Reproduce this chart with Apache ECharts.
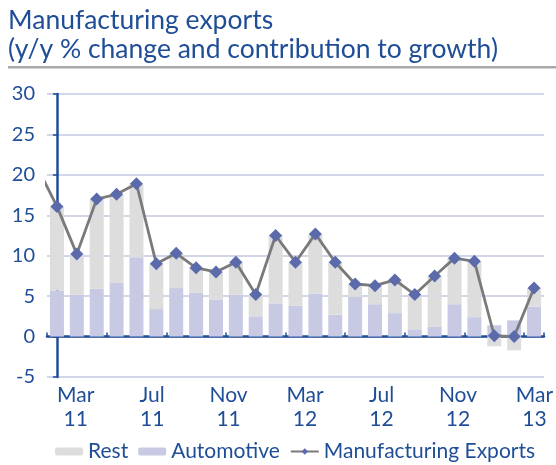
<!DOCTYPE html>
<html>
<head>
<meta charset="utf-8">
<style>
  html, body { margin: 0; padding: 0; background: #ffffff; }
  #chart { width: 556px; height: 465px; }
</style>
<script src="https://cdn.jsdelivr.net/npm/echarts@6/dist/echarts.min.js"></script>
</head>
<body>
<div id="chart"></div>
<script>
// Data months for the bars and the line (Feb 2011 .. Feb 2013)
const dataMonths = ['Feb 11','Mar 11','Apr 11','May 11','Jun 11','Jul 11','Aug 11','Sep 11','Oct 11',
                    'Nov 11','Dec 11','Jan 12','Feb 12','Mar 12','Apr 12','May 12','Jun 12','Jul 12',
                    'Aug 12','Sep 12','Oct 12','Nov 12','Dec 12','Jan 13','Feb 13'];

// Month and year tick labels for the time axis (Feb 2011 .. Mar 2013)
const labelMonths = ['Feb','Mar','Apr','May','Jun','Jul','Aug','Sep','Oct','Nov','Dec','Jan',
                     'Feb','Mar','Apr','May','Jun','Jul','Aug','Sep','Oct','Nov','Dec','Jan',
                     'Feb','Mar'];
const labelYears  = ['11','11','11','11','11','11','11','11','11','11','11','12',
                     '12','12','12','12','12','12','12','12','12','12','12','13',
                     '13','13'];

// Contributions to growth (pp) and total y/y % change
const automotive = [5.7, 5.2, 5.9, 6.7, 9.8, 3.4, 6.0, 5.4, 4.6, 5.2, 2.5, 4.1, 3.8,
                    5.3, 2.7, 4.9, 4.0, 2.9, 0.9, 1.2, 4.0, 2.4, 1.4, 2.0, 3.7];
const rest       = [10.4, 5.0, 11.1, 10.9, 9.1, 5.6, 4.3, 3.1, 3.4, 4.0, 2.7, 8.5, 5.4,
                    7.4, 6.5, 1.6, 2.3, 4.1, 4.3, 6.3, 5.7, 6.9, -1.2, -1.7, 2.3];
const manufacturingExports = [16.1, 10.2, 17.0, 17.6, 18.9, 9.0, 10.3, 8.5, 8.0, 9.2, 5.2, 12.5, 9.2,
                              12.7, 9.2, 6.5, 6.3, 7.0, 5.2, 7.5, 9.7, 9.3, 0.1, 0.0, 6.0];
// Jan 2011 value: only its segment into Feb 2011 is visible
const manufacturingExportsJan11 = 21.0;

const yTicks = { min: -5, max: 30, step: 5 };

const BLUE = '#1f4e96';
const FONT = 'Lato';

const xLabels = labelMonths.map((m, i) => m + '\n' + labelYears[i]);
// The line sits on a continuous copy of the month index so the Jan 2011 segment can be clipped
const lineData = [{ value: [-1, manufacturingExportsJan11], symbol: 'none' }]
  .concat(manufacturingExports.map((v, i) => [i, v]));

const chart = echarts.init(document.getElementById('chart'), null, { renderer: 'canvas' });

chart.setOption({
  animation: false,
  backgroundColor: '#ffffff',
  title: {
    text: 'Manufacturing exports\n(y/y % change and contribution to growth)',
    left: 3,
    top: 1,
    textStyle: { fontFamily: FONT, fontSize: 26.5, fontWeight: 'normal', color: BLUE, lineHeight: 29 }
  },
  graphic: [{
    type: 'rect',
    shape: { x: 8, y: 66, width: 548, height: 2.5 },
    style: { fill: '#a8a8a8' },
    silent: true
  }],
  legend: {
    data: ['Rest', 'Automotive', 'Manufacturing Exports'],
    left: 50,
    top: 436,
    itemWidth: 28,
    itemHeight: 8,
    itemGap: 10,
    textStyle: { fontFamily: FONT, fontSize: 21, color: BLUE }
  },
  grid: { left: 47, right: 9, top: 94, bottom: 88 },
  xAxis: [{
    type: 'category',
    data: dataMonths,
    axisLine: { show: true, onZero: true, lineStyle: { color: BLUE, width: 2.5 } },
    axisTick: { show: true, inside: true, length: 4, lineStyle: { color: BLUE, width: 1.5 } },
    axisLabel: { show: false },
    splitLine: { show: false }
  }, {
    type: 'value',
    min: -0.5,
    max: dataMonths.length - 0.5,
    show: false
  }, {
    type: 'category',
    position: 'bottom',
    data: xLabels,
    axisLine: { show: false, onZero: false },
    axisTick: { show: false },
    axisLabel: {
      interval: (index) => index % 4 === 1,
      fontFamily: FONT, fontSize: 21, lineHeight: 24, color: BLUE, margin: 6
    },
    splitLine: { show: false }
  }],
  yAxis: {
    type: 'value',
    min: yTicks.min,
    max: yTicks.max,
    interval: yTicks.step,
    axisLine: { show: true, lineStyle: { color: BLUE, width: 2.5 } },
    axisTick: { show: true, length: 4, lineStyle: { color: BLUE, width: 1.5 } },
    axisLabel: { fontFamily: FONT, fontSize: 20, color: BLUE, margin: 12 },
    splitLine: { show: true, lineStyle: { color: '#c4c7e3', width: 1.5 } }
  },
  series: [{
    name: 'Automotive',
    type: 'bar',
    stack: 'contrib',
    xAxisIndex: 0,
    barWidth: 14,
    itemStyle: { color: '#c8cae3' },
    data: automotive
  }, {
    name: 'Rest',
    type: 'bar',
    stack: 'contrib',
    xAxisIndex: 0,
    barWidth: 14,
    itemStyle: { color: '#dcdddc' },
    data: rest
  }, {
    name: 'Manufacturing Exports',
    type: 'line',
    xAxisIndex: 1,
    clip: true,
    symbol: 'diamond',
    symbolSize: 13,
    lineStyle: { color: '#7a7a7a', width: 2.8 },
    itemStyle: { color: '#5a6aab' },
    data: lineData,
    z: 5
  }]
});
</script>
</body>
</html>
